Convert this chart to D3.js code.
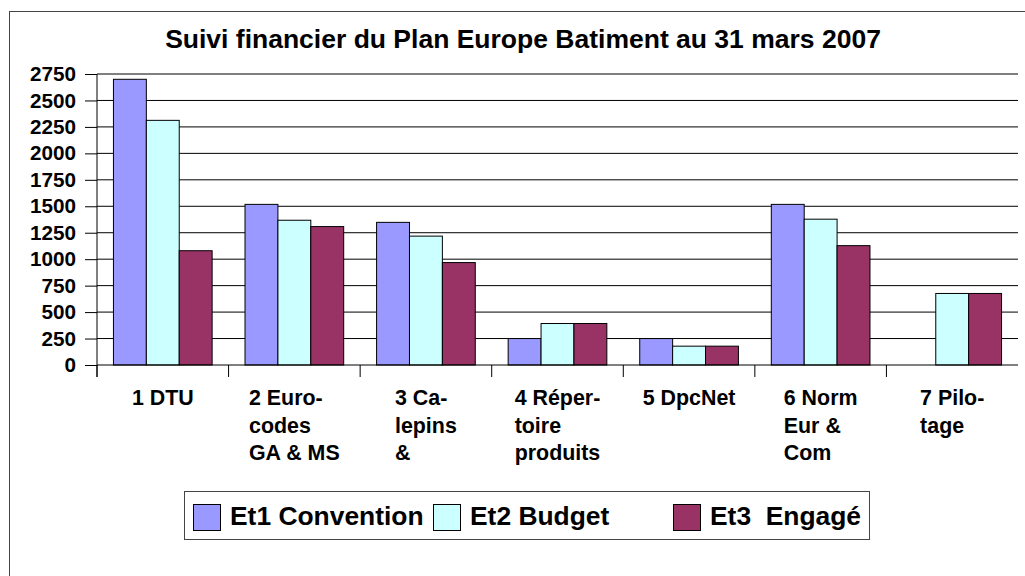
<!DOCTYPE html>
<html>
<head>
<meta charset="utf-8">
<script src="https://cdn.jsdelivr.net/npm/d3@7"></script>
<style>
  body { margin: 0; background: #fff; }
  svg { display: block; font-family: "Liberation Sans", Arial, sans-serif; font-weight: bold; }
</style>
</head>
<body>
<div id="chart"></div>
<script>
// data
var categories = [
  ["1 DTU"],
  ["2 Euro-", "codes", "GA & MS"],
  ["3 Ca-", "lepins", "&"],
  ["4 Réper-", "toire", "produits"],
  ["5 DpcNet"],
  ["6 Norm", "Eur &", "Com"],
  ["7 Pilo-", "tage"]
];
var seriesNames = ["Et1 Convention", "Et2 Budget", "Et3  Engagé"];
var convention = [2700, 1518, 1348, 250, 250, 1518, 0];
var budget = [2312, 1368, 1218, 392, 178, 1378, 676];
var engage = [1080, 1308, 968, 392, 178, 1128, 676];
var yTicks = [0, 250, 500, 750, 1000, 1250, 1500, 1750, 2000, 2250, 2500, 2750];
var colors = ["#9999FF", "#CCFFFF", "#993366"];

var series = [convention, budget, engage];

var W = 1025, H = 576;
var margin = {top: 74, left: 97, right: 7, bottom: 211};
var width = W - margin.left - margin.right,
    height = H - margin.top - margin.bottom;

var svg = d3.select("#chart").append("svg")
  .attr("width", W)
  .attr("height", H);

// outer frame
svg.append("rect")
  .attr("x", 9.5).attr("y", 11.5)
  .attr("width", 1040).attr("height", 600)
  .attr("fill", "none")
  .attr("stroke", "#444");

// title
svg.append("text")
  .attr("x", 523).attr("y", 48)
  .attr("text-anchor", "middle")
  .style("font-size", "26.5px")
  .text("Suivi financier du Plan Europe Batiment au 31 mars 2007");

var g = svg.append("g")
  .attr("transform", "translate(" + margin.left + "," + margin.top + ")");

var x = d3.scaleBand()
  .domain(d3.range(categories.length))
  .range([0, width]);

var xs = d3.scaleBand()
  .domain(d3.range(series.length))
  .range([x.bandwidth() * 0.125, x.bandwidth() * 0.875]);

var y = d3.scaleLinear()
  .domain([0, 2750])
  .range([height, 0]);

// gridlines
g.selectAll(".grid")
  .data(yTicks.filter(function(d) { return d > 0; }))
  .enter().append("line")
  .attr("x1", 0).attr("x2", width)
  .attr("y1", function(d) { return y(d); })
  .attr("y2", function(d) { return y(d); })
  .attr("stroke", "#000");

// bars (zero values are not drawn)
series.forEach(function(vals, s) {
  g.selectAll(".bar" + s)
    .data(vals.map(function(v, i) { return {i: i, v: v}; }).filter(function(d) { return d.v > 0; }))
    .enter().append("rect")
    .attr("x", function(d) { return x(d.i) + xs(s); })
    .attr("y", function(d) { return y(d.v); })
    .attr("width", xs.bandwidth())
    .attr("height", function(d) { return height - y(d.v); })
    .attr("fill", colors[s])
    .attr("stroke", "#000")
    .attr("stroke-width", 1);
});

// y axis
var yAxis = g.append("g")
  .call(d3.axisLeft(y).tickValues(yTicks).tickFormat(d3.format("d")).tickSize(12).tickPadding(9));
yAxis.select(".domain").remove();
yAxis.selectAll("line").attr("stroke", "#000");
yAxis.selectAll("text")
  .style("font-size", "20.7px")
  .style("font-family", "'Liberation Sans', Arial, sans-serif")
  .style("font-weight", "bold")
  .attr("fill", "#000");
g.append("line")
  .attr("x1", 0).attr("x2", 0)
  .attr("y1", 0).attr("y2", height + 12)
  .attr("stroke", "#000");

// x axis
g.append("line")
  .attr("x1", 0).attr("x2", width)
  .attr("y1", height).attr("y2", height)
  .attr("stroke", "#000");
g.selectAll(".xtick")
  .data(d3.range(categories.length))
  .enter().append("line")
  .attr("x1", function(d) { return x(d); })
  .attr("x2", function(d) { return x(d); })
  .attr("y1", height).attr("y2", height + 12)
  .attr("stroke", "#000");

// category labels, lines left aligned, block centred on the band
categories.forEach(function(lines, i) {
  var t = g.append("text")
    .style("font-size", "21.4px")
    .attr("y", height + 40);
  lines.forEach(function(l, k) {
    t.append("tspan")
      .attr("dy", k === 0 ? 0 : 27.5)
      .attr("x", 0)
      .text(l);
  });
  var w = t.node().getBBox().width;
  var x0 = x(i) + x.bandwidth() / 2 - w / 2;
  t.selectAll("tspan").attr("x", x0);
});

// legend
var legend = svg.append("g");
legend.append("rect")
  .attr("x", 184.5).attr("y", 491.5)
  .attr("width", 685).attr("height", 48)
  .attr("fill", "#fff")
  .attr("stroke", "#444");
var legX = [193, 433, 673];
seriesNames.forEach(function(name, s) {
  legend.append("rect")
    .attr("x", legX[s] + 0.5).attr("y", 504.5)
    .attr("width", 27).attr("height", 26)
    .attr("fill", colors[s])
    .attr("stroke", "#000");
  legend.append("text")
    .attr("x", legX[s] + 37).attr("y", 525)
    .attr("xml:space", "preserve")
    .style("white-space", "pre")
    .style("font-size", "26.4px")
    .text(name);
});
</script>
</body>
</html>
